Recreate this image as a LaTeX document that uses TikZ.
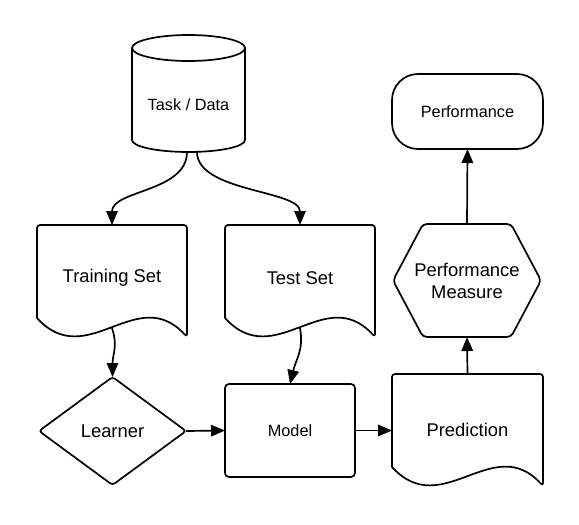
\documentclass[tikz,border=0pt]{standalone}
\usepackage{fontspec}
\setmainfont{Liberation Sans}
\usetikzlibrary{calc,arrows.meta}
\newcommand\docoutline[1]{%
  \draw[sh] ($(#1.south west)+(0,10)$) [rounded corners=3pt] -- (#1.north west) -- (#1.north east) -- ($(#1.south east)+(0,-9)$) [sharp corners] .. controls +(-50,55) and +(50,-55) .. ($(#1.south west)+(0,10)$);}
\begin{document}
\begin{tikzpicture}[x=1pt,y=1pt,
  sh/.style={line width=1.7pt, line join=round},
  box/.style={draw=none, inner sep=0pt, outer sep=0pt, align=center, font=\fontsize{18.4}{22}\selectfont},
  small/.style={font=\fontsize{16.3}{20}\selectfont},
  conn/.style={line width=1.7pt, -{Triangle[length=14pt,width=11.5pt]}},
]
\useasboundingbox (0,0) rectangle (579,-525);
\fill[white] (0,0) rectangle (579,-525);

\node[box, small, minimum width=113pt, minimum height=94pt] (task) at (188.5,-105) {Task / Data};
\node[box, minimum width=150pt, minimum height=103pt] (train) at (112,-276.5) {\raisebox{-1.5pt}[\height][\depth]{Training Set}};
\node[box, minimum width=150pt, minimum height=103pt] (test) at (300,-276.5) {\raisebox{-1.5pt}[\height][\depth]{Test Set}};
\node[box, minimum width=147pt, minimum height=108pt] (learner) at (112.5,-431) {Learner};
\node[box, small, sh, draw, rounded corners=4pt, minimum width=130pt, minimum height=93pt] (model) at (290,-430.5) {Model};
\node[box, minimum width=151pt, minimum height=103pt] (pred) at (467.5,-425.5) {\raisebox{-4.5pt}[\height][\depth]{Prediction}};
\node[box, minimum width=148pt, minimum height=113pt] (pm) at (467,-280.5) {Performance\\Measure};
\node[box, small, sh, draw, rounded corners=26pt, minimum width=151pt, minimum height=75pt] (perf) at (467.5,-111.5) {Performance};

% cylinder
\draw[sh] ($(task.north west)+(0,10)$) -- ($(task.south west)+(0,12)$) arc[start angle=180,end angle=360,x radius=56.5,y radius=12] -- ($(task.north east)+(0,10)$);
\draw[sh] ($(task.north)+(0,10)$) ellipse[x radius=56.5,y radius=13];

% documents
\docoutline{train}
\docoutline{test}
\docoutline{pred}

% diamond
\draw[sh, rounded corners=3pt] (learner.west) -- (learner.north) -- (learner.east) -- (learner.south) -- cycle;

% hexagon
\draw[sh, rounded corners=4pt] (pm.west) -- ($(pm.north west)+(30,0)$) -- ($(pm.north east)+(-30,0)$) -- (pm.east) -- ($(pm.south east)+(-30,0)$) -- ($(pm.south west)+(30,0)$) -- cycle;

% connectors
\draw[conn] ($(task.south)+(-1.5,0)$) .. controls +(0,-40) and +(0,35) .. (train.north);
\draw[conn] ($(task.south)+(8.5,0)$) .. controls +(0,-40) and +(0,35) .. (test.north);
\draw[conn] (train.south) .. controls +(6,-18) and +(0,22) .. (learner.north);
\draw[conn] (test.south) .. controls +(4,-22) and +(6,25) .. (model.north);
\draw[conn] (learner.east) -- (model.west);
\draw[conn] (model.east) -- (model.east -| pred.west);
\draw[conn] (pred.north) -- (pm.south);
\draw[conn] (pm.north) -- (perf.south);
\end{tikzpicture}
\end{document}
